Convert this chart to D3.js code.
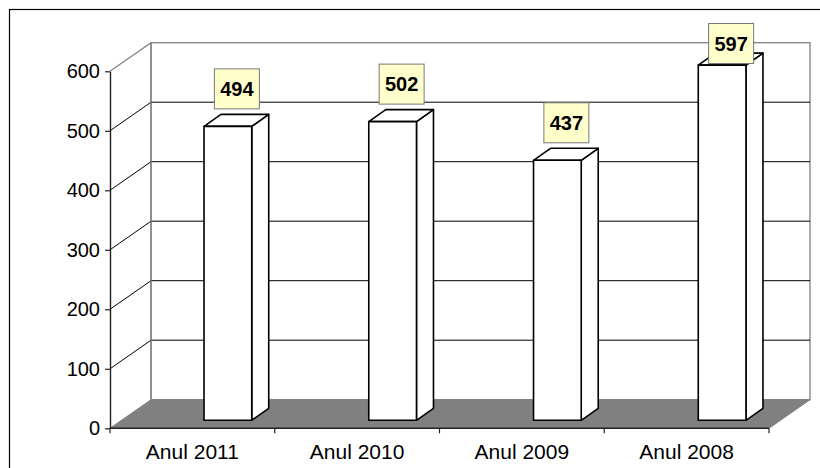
<!DOCTYPE html>
<html>
<head>
<meta charset="utf-8">
<script src="https://cdn.jsdelivr.net/npm/d3@7"></script>
<style>
  body { margin: 0; background: #fff; }
  svg { display: block; font-family: "Liberation Sans", Arial, sans-serif; }
</style>
</head>
<body>
<svg id="chart" width="820" height="468"></svg>
<script>
const categories = ["Anul 2011", "Anul 2010", "Anul 2009", "Anul 2008"];
const values = [494, 502, 437, 597];
const yTicks = [0, 100, 200, 300, 400, 500, 600];

// wall depth offset and bar geometry
const WDX = 41, WDY = 28.6;
const BAR_W = 47.7, BAR_SHIFT = 35.5, BAR_LIFT = 8, BDX = 17, BDY = 12;

const svg = d3.select('#chart');

const x = d3.scaleBand().domain(categories).range([110, 769]);
const y = d3.scaleLinear().domain([0, 600]).range([428.3, 71.3]);

// outer frame
svg.append('rect')
  .attr('x', 9.5).attr('y', 9.5).attr('width', 830).attr('height', 480)
  .attr('fill', 'none').attr('stroke', '#000').attr('stroke-width', 1.2);

// floor
const x0 = x.range()[0], x1 = x.range()[1];
svg.append('path')
  .attr('d', `M${x0},${y(0)}L${x1},${y(0)}L${x1 + WDX},${y(0) - WDY}L${x0 + WDX},${y(0) - WDY}Z`)
  .attr('fill', '#808080').attr('stroke', '#808080');

// back wall
svg.append('rect')
  .attr('x', x0 + WDX).attr('y', y(600) - WDY)
  .attr('width', x1 - x0).attr('height', y(0) - y(600))
  .attr('fill', 'none').attr('stroke', '#808080').attr('stroke-width', 1.3);

// gridlines: side wall diagonals + back wall horizontals
const grid = svg.append('g');
yTicks.filter(t => t > 0).forEach(t => {
  const col = t === 600 ? '#808080' : '#000';
  grid.append('line')
    .attr('x1', x0).attr('y1', y(t)).attr('x2', x0 + WDX).attr('y2', y(t) - WDY)
    .attr('stroke', col).attr('stroke-width', t === 600 ? 1.3 : 1);
  if (t < 600) {
    grid.append('line')
      .attr('x1', x0 + WDX).attr('y1', y(t) - WDY).attr('x2', x1 + WDX).attr('y2', y(t) - WDY)
      .attr('stroke', '#000').attr('stroke-width', 1);
  }
});
// side wall back edge
grid.append('line')
  .attr('x1', x0 + WDX).attr('y1', y(600) - WDY).attr('x2', x0 + WDX).attr('y2', y(0) - WDY)
  .attr('stroke', '#808080').attr('stroke-width', 1.3);

// y axis
const yAxis = svg.append('g')
  .attr('transform', `translate(${x0},0)`)
  .call(d3.axisLeft(y).tickValues(yTicks).tickSize(5).tickSizeOuter(0).tickPadding(5));
yAxis.select('.domain').attr('stroke', '#222').attr('stroke-width', 1.4);
yAxis.selectAll('.tick line').attr('stroke', '#222').attr('stroke-width', 1.2);
yAxis.selectAll('.tick text')
  .attr('font-size', 20).attr('fill', '#000')
  .attr('font-family', '"Liberation Sans", Arial, sans-serif');

// x axis line + boundary ticks
svg.append('line')
  .attr('x1', x0).attr('y1', y(0)).attr('x2', x1).attr('y2', y(0))
  .attr('stroke', '#222').attr('stroke-width', 1.4);
const bounds = categories.map(c => x(c)).concat([x1]);
svg.selectAll('.xtick').data(bounds).join('line')
  .attr('class', 'xtick')
  .attr('x1', d => d).attr('x2', d => d)
  .attr('y1', y(0)).attr('y2', y(0) + 5)
  .attr('stroke', '#222').attr('stroke-width', 1.2);
svg.selectAll('.xlabel').data(categories).join('text')
  .attr('class', 'xlabel')
  .attr('x', d => x(d) + x.bandwidth() / 2)
  .attr('y', 458.5)
  .attr('text-anchor', 'middle')
  .attr('font-size', 21)
  .text(d => d);

// bars
const bars = categories.map((c, i) => {
  const left = x(c) + x.bandwidth() / 2 + BAR_SHIFT - BAR_W / 2;
  return { c, v: values[i], left, right: left + BAR_W, top: y(values[i]) - BAR_LIFT, bottom: y(0) - BAR_LIFT };
});

const bg = svg.selectAll('.bar').data(bars).join('g').attr('class', 'bar')
  .attr('fill', '#fff').attr('stroke', '#000').attr('stroke-width', 1.6)
  .attr('stroke-linejoin', 'round');
bg.append('path')
  .attr('d', d => `M${d.right},${d.bottom}L${d.right + BDX},${d.bottom - BDY}L${d.right + BDX},${d.top - BDY}L${d.right},${d.top}Z`);
bg.append('path')
  .attr('d', d => `M${d.left},${d.top}L${d.left + BDX},${d.top - BDY}L${d.right + BDX},${d.top - BDY}L${d.right},${d.top}Z`);
bg.append('rect')
  .attr('x', d => d.left).attr('y', d => d.top)
  .attr('width', BAR_W).attr('height', d => d.bottom - d.top);

// data labels
const BOX_W = 45, BOX_H = 40;
const lg = svg.selectAll('.dlabel').data(bars).join('g').attr('class', 'dlabel')
  .attr('transform', d => {
    const cx = (d.left + d.right) / 2 + BDX / 2;
    const top = Math.max(y(d.v) - 26 - BOX_H, 23);
    return `translate(${cx - BOX_W / 2},${top})`;
  });
lg.append('rect')
  .attr('x', 0.5).attr('y', 0.5).attr('width', BOX_W).attr('height', BOX_H)
  .attr('fill', '#ffffcc').attr('stroke', '#777').attr('stroke-width', 1);
lg.append('text')
  .attr('x', BOX_W / 2 + 0.5).attr('y', BOX_H / 2 + 7.5)
  .attr('text-anchor', 'middle')
  .attr('font-size', 20).attr('font-weight', 'bold')
  .text(d => d.v);
</script>
</body>
</html>
